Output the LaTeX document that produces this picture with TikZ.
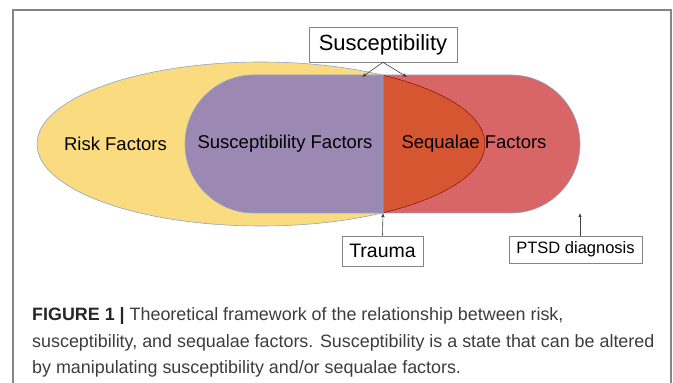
\documentclass[tikz,border=0pt]{standalone}
\usepackage{fontspec}
\setmainfont{Liberation Sans}
\usetikzlibrary{arrows.meta}
\definecolor{riskyellow}{HTML}{FBDB80}
\definecolor{suscpurple}{HTML}{9B89B4}
\definecolor{seqred}{HTML}{D86666}
\definecolor{overlaporange}{HTML}{D65632}
\definecolor{edgeblue}{HTML}{8CA6C8}
\definecolor{framegray}{HTML}{858585}
\definecolor{captiongray}{HTML}{3C3C3C}

\begin{document}
\begin{tikzpicture}[x=1pt,y=1pt,
    zonetext/.style={inner sep=0pt, font=\fontsize{18.5}{22}\selectfont},
    notebox/.style={draw=framegray, fill=white, line width=0.6pt, inner sep=0pt},
    arrowline/.style={draw=black!75, line width=0.6pt, -{Latex[length=4pt,width=3.5pt]}}]
    
    \def\riskellipse{(261,239) ellipse [x radius=224pt, y radius=82pt]}
    \def\susczone{(383,308) -- (254,308) arc [start angle=90, end angle=270, radius=69pt] -- (383,170) -- cycle}
    \def\seqzone{(383,308) -- (511,308) arc [start angle=90, end angle=-90, radius=69pt] -- (383,170) -- cycle}
    
    \useasboundingbox (0,0) rectangle (673,383);
    
    %draw frame:
    \draw[framegray, line width=1.5pt] (13,0) -- (13,373) -- (671,373) -- (671,0);
    
    %Color stuff:
    \fill[riskyellow] \riskellipse;
    \begin{scope}
        \clip (0,0) rectangle (383,383);
        \draw[edgeblue, line width=0.6pt] \riskellipse;
    \end{scope}
    \filldraw[fill=seqred, draw=edgeblue, line width=0.6pt] \seqzone;
    \begin{scope}
        \clip (383,0) rectangle (673,383);
        \filldraw[fill=overlaporange, draw=red!50!black, line width=0.4pt] \riskellipse;
    \end{scope}
    \filldraw[fill=suscpurple, draw=edgeblue, line width=0.6pt] \susczone;
    \draw[edgeblue!80!blue, line width=0.8pt] (383,308) -- (383,170);
    
    %zone labels:
    \node[zonetext] (risk) at (115.5,239) {Risk Factors};
    \node[zonetext] (suscf) at (285,239) {Susceptibility Factors};
    \node[zonetext] (seqf) at (474,239) {Sequalae Factors};
    
    %boxes and arrows:
    \node[notebox, minimum width=148pt, minimum height=35pt, font=\fontsize{22}{26}\selectfont] (susc) at (383,338.5) {Susceptibility};
    \node[notebox, minimum width=81pt, minimum height=30pt, font=\fontsize{19.5}{23}\selectfont] (trauma) at (382.5,132) {Trauma};
    \node[notebox, minimum width=133pt, minimum height=27pt, font=\fontsize{16.5}{20}\selectfont] (ptsd) at (575.5,133.5) {PTSD diagnosis};
    
    \coordinate (tipl) at (362,306);
    \coordinate (tipr) at (407,306);
    \coordinate (tiptrauma) at (383,170);
    \coordinate (tipptsd) at (580,170);
    \draw[arrowline] (susc.south) -- (tipl);
    \draw[arrowline] (susc.south) -- (tipr);
    \draw[arrowline] (trauma.north) -- (tiptrauma);
    \draw[arrowline] (ptsd.north -| tipptsd) -- (tipptsd);
    
    %caption:
    \node[anchor=base west, align=left, inner sep=0pt, text=captiongray, font=\fontsize{17.9}{26.5}\selectfont] (caption) at (32,9)
        {{\bfseries\color{black!85}FIGURE 1 |} Theoretical framework of the relationship between risk,\\
        susceptibility, and sequalae factors. Susceptibility is a state that can be altered\\
        by manipulating susceptibility and/or sequalae factors.};
    
\end{tikzpicture}
\end{document}
